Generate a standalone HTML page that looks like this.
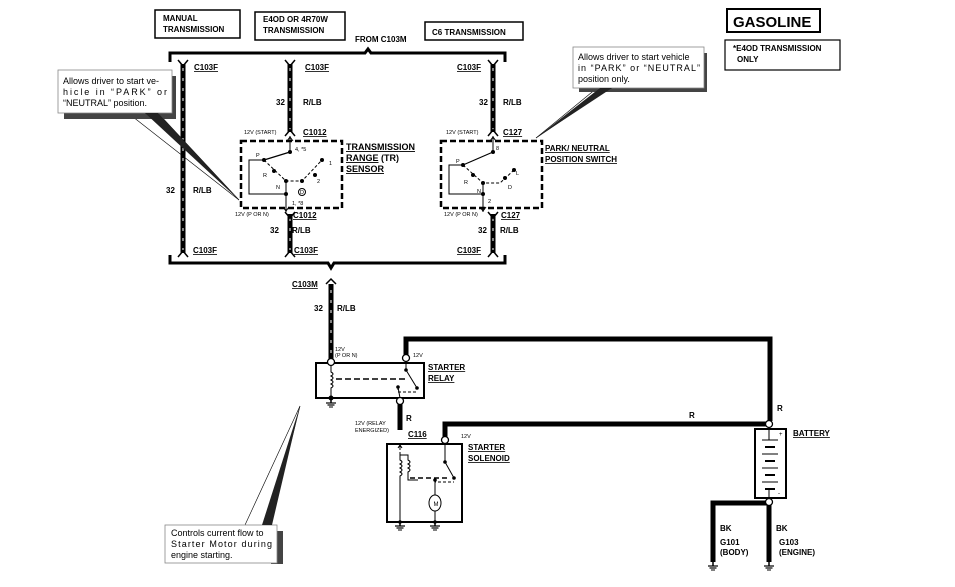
<!DOCTYPE html>
<html><head><meta charset="utf-8"><style>
html,body{margin:0;padding:0;background:#fff}
svg{display:block}
text{font-family:"Liberation Sans",Arial,sans-serif;fill:#000}
.b{font-weight:bold;font-size:8px}
.s{font-size:5.5px}
.u{text-decoration:underline}
</style></head><body>
<svg width="955" height="587" viewBox="0 0 955 587" xmlns="http://www.w3.org/2000/svg">
<defs>
<g id="gnd"><line x1="0" y1="0" x2="0" y2="4" stroke="#000" stroke-width="1.5"/><line x1="-5" y1="4" x2="5" y2="4" stroke="#000" stroke-width="1.2"/><line x1="-3.5" y1="6" x2="3.5" y2="6" stroke="#000" stroke-width="1.2"/><line x1="-2" y1="8" x2="2" y2="8" stroke="#000" stroke-width="1"/></g>
</defs>
<g fill="none" stroke="#000">
<!-- top boxes -->
<rect x="155" y="10" width="85" height="28" stroke-width="1.5"/>
<rect x="255" y="12" width="90" height="28" stroke-width="1.5"/>
<rect x="425" y="22" width="98" height="18" stroke-width="1.5"/>
<rect x="727" y="9" width="93" height="23" stroke-width="2"/>
<rect x="725" y="40" width="115" height="30" stroke-width="1.2"/>
<!-- brackets -->
<path d="M170,62 V53 H365 L368,49 L371,53 H505 V62" stroke-width="3"/>
<path d="M170,255 V263 H328 L331,268 L334,263 H505 V255" stroke-width="3"/>
</g>
<!-- wires R/LB striped -->
<g stroke-linecap="butt">
<g stroke="#000" stroke-width="5">
<line x1="183" y1="64" x2="183" y2="253"/>
<line x1="290" y1="64" x2="290" y2="132"/>
<line x1="290" y1="214" x2="290" y2="253"/>
<line x1="493" y1="64" x2="493" y2="132"/>
<line x1="493" y1="214" x2="493" y2="253"/>
<line x1="331" y1="284" x2="331" y2="361"/>
</g>
<g stroke="#fff" stroke-width="1" stroke-dasharray="3 7">
<line x1="183" y1="68" x2="183" y2="250"/>
<line x1="290" y1="68" x2="290" y2="130"/>
<line x1="290" y1="218" x2="290" y2="250"/>
<line x1="493" y1="68" x2="493" y2="130"/>
<line x1="493" y1="218" x2="493" y2="250"/>
<line x1="331" y1="290" x2="331" y2="358"/>
</g>
</g>
<!-- connector Y ends -->
<g fill="none" stroke="#000" stroke-width="1.5">
<path d="M178,60 L183,66 L188,60"/><path d="M178,257 L183,251 L188,257"/>
<path d="M285,60 L290,66 L295,60"/><path d="M285,136 L290,130 L295,136"/>
<path d="M285,212 L290,218 L295,212"/><path d="M285,257 L290,251 L295,257"/>
<path d="M488,60 L493,66 L498,60"/><path d="M488,136 L493,130 L498,136"/>
<path d="M488,212 L493,218 L498,212"/><path d="M488,257 L493,251 L498,257"/>
<path d="M326,284 L331,279 L336,284"/>
</g>
<!-- TR sensor -->
<g fill="none" stroke="#000">
<rect x="241" y="141" width="101" height="67" stroke-width="2.5" stroke-dasharray="6 3"/>
<rect x="441" y="141" width="101" height="67" stroke-width="2.5" stroke-dasharray="6 3"/>
<line x1="290" y1="136" x2="290" y2="152" stroke-width="1"/>
<path d="M287,141 L290,137 L293,141" stroke-width="1"/>
<line x1="290" y1="152" x2="264" y2="160" stroke-width="1.2"/>
<path d="M264,160 H249 V194 H286" stroke-width="1"/>
<line x1="286" y1="180" x2="286" y2="212" stroke-width="1"/>
<path d="M283,207 L286,211 L289,207" stroke-width="1"/>
<path d="M264,160 L286,181 L302,181 L322,160" stroke-width="1" stroke-dasharray="3 2"/>
<circle cx="302" cy="192" r="3.5" stroke-width="1"/>
<!-- P/N switch -->
<line x1="493" y1="136" x2="493" y2="152" stroke-width="1"/>
<path d="M490,141 L493,137 L496,141" stroke-width="1"/>
<line x1="493" y1="152" x2="463" y2="165" stroke-width="1.2"/>
<path d="M463,165 H449 V194 H483" stroke-width="1"/>
<line x1="483" y1="183" x2="483" y2="212" stroke-width="1"/>
<path d="M480,207 L483,211 L486,207" stroke-width="1"/>
<path d="M463,165 L483,183 L500,183 L514,170" stroke-width="1" stroke-dasharray="3 2"/>
</g>
<g fill="#000">
<circle cx="290" cy="152" r="2"/><circle cx="264" cy="160" r="2"/><circle cx="274" cy="171" r="2"/><circle cx="286" cy="181" r="2"/><circle cx="302" cy="181" r="2"/><circle cx="315" cy="175" r="2"/><circle cx="322" cy="160" r="2"/><circle cx="286" cy="194" r="2"/>
<circle cx="493" cy="152" r="2"/><circle cx="463" cy="165" r="2"/><circle cx="473" cy="175" r="2"/><circle cx="483" cy="183" r="2"/><circle cx="505" cy="178" r="2"/><circle cx="514" cy="170" r="2"/><circle cx="483" cy="194" r="2"/>
</g>
<g font-size="5.5" font-family="Liberation Sans">
<text x="295" y="151" class="s">4, *5</text><text x="256" y="157" class="s">P</text><text x="263" y="177" class="s">R</text><text x="276" y="189" class="s">N</text><text x="300" y="194" class="s" font-size="4">D</text><text x="317" y="183" class="s">2</text><text x="329" y="165" class="s">1</text><text x="292" y="205" class="s">1, *8</text>
<text x="496" y="150" class="s">8</text><text x="456" y="163" class="s">P</text><text x="464" y="184" class="s">R</text><text x="477" y="193" class="s">N</text><text x="508" y="189" class="s">D</text><text x="516" y="175" class="s">L</text><text x="488" y="203" class="s">2</text>
<text x="244" y="134" class="s">12V (START)</text><text x="235" y="216" class="s">12V (P OR N)</text>
<text x="446" y="134" class="s">12V (START)</text><text x="444" y="216" class="s">12V (P OR N)</text>
<text x="335" y="351" class="s">12V</text><text x="335" y="357" class="s">(P OR N)</text>
<text x="413" y="357" class="s">12V</text>
<text x="355" y="425" class="s">12V (RELAY</text><text x="355" y="432" class="s">ENERGIZED)</text>
<text x="461" y="438" class="s">12V</text>
</g>
<!-- labels -->
<g class="b" font-size="8">
<text x="163" y="21" class="b">MANUAL</text><text x="163" y="32" class="b">TRANSMISSION</text>
<text x="263" y="22" class="b">E4OD OR 4R70W</text><text x="263" y="33" class="b">TRANSMISSION</text>
<text x="355" y="42" class="b">FROM C103M</text>
<text x="432" y="35" class="b">C6 TRANSMISSION</text>
<text x="733" y="27" font-size="15" font-weight="bold">GASOLINE</text>
<text x="733" y="51" class="b">*E4OD TRANSMISSION</text><text x="737" y="62" class="b">ONLY</text>
<text x="194" y="70" class="b u">C103F</text><text x="305" y="70" class="b u">C103F</text><text x="457" y="70" class="b u">C103F</text>
<text x="276" y="105" class="b">32</text><text x="303" y="105" class="b">R/LB</text>
<text x="479" y="105" class="b">32</text><text x="503" y="105" class="b">R/LB</text>
<text x="303" y="135" class="b u">C1012</text><text x="503" y="135" class="b u">C127</text>
<text x="346" y="150" font-size="9" font-weight="bold" class="u">TRANSMISSION</text>
<text x="346" y="161" font-size="9" font-weight="bold"><tspan class="u">RANGE</tspan> (TR)</text>
<text x="346" y="172" font-size="9" font-weight="bold" class="u">SENSOR</text>
<text x="545" y="151" class="b u">PARK/ NEUTRAL</text><text x="545" y="162" class="b u">POSITION SWITCH</text>
<text x="166" y="193" class="b">32</text><text x="193" y="193" class="b">R/LB</text>
<text x="293" y="218" class="b u">C1012</text><text x="501" y="218" class="b u">C127</text>
<text x="270" y="233" class="b">32</text><text x="292" y="233" class="b">R/LB</text>
<text x="478" y="233" class="b">32</text><text x="500" y="233" class="b">R/LB</text>
<text x="193" y="253" class="b u">C103F</text><text x="294" y="253" class="b u">C103F</text><text x="457" y="253" class="b u">C103F</text>
<text x="292" y="287" class="b u">C103M</text>
<text x="314" y="311" class="b">32</text><text x="337" y="311" class="b">R/LB</text>
<text x="428" y="370" class="b u">STARTER</text><text x="428" y="381" class="b u">RELAY</text>
<text x="406" y="421" class="b">R</text>
<text x="408" y="437" class="b u">C116</text>
<text x="468" y="450" class="b u">STARTER</text><text x="468" y="461" class="b u">SOLENOID</text>
<text x="689" y="418" class="b">R</text><text x="777" y="411" class="b">R</text>
<text x="793" y="436" class="b u">BATTERY</text>
<text x="720" y="531" class="b">BK</text><text x="776" y="531" class="b">BK</text>
<text x="720" y="545" class="b">G101</text><text x="720" y="555" class="b">(BODY)</text>
<text x="779" y="545" class="b">G103</text><text x="779" y="555" class="b">(ENGINE)</text>
</g>
<!-- callouts -->
<g fill="none" stroke="#000" stroke-width="0.6">
<line x1="128" y1="113" x2="239" y2="200"/><line x1="158" y1="113" x2="239" y2="200"/>
<line x1="597" y1="88" x2="536" y2="138"/><line x1="610" y1="88" x2="536" y2="138"/>
<line x1="245" y1="525" x2="300" y2="406"/><line x1="270" y1="525" x2="300" y2="406"/>
</g>
<rect x="64" y="76" width="112" height="43" fill="#444"/>
<rect x="58" y="70" width="114" height="43" fill="#fff" stroke="#888" stroke-width="0.8"/>
<polygon points="145,113 158,113 239,200" fill="#222"/>
<rect x="579" y="53" width="128" height="39" fill="#444"/>
<rect x="573" y="47" width="131" height="41" fill="#fff" stroke="#888" stroke-width="0.8"/>
<polygon points="600,88 612,88 536,138" fill="#222"/>
<rect x="271" y="531" width="12" height="33" fill="#444"/>
<rect x="165" y="525" width="112" height="38" fill="#fff" stroke="#888" stroke-width="0.8"/>
<polygon points="262,525 272,525 300,406" fill="#222"/>
<g font-size="9">
<text x="63" y="84">Allows driver to start ve-</text>
<text x="63" y="95" textLength="104">hicle in “PARK” or</text>
<text x="63" y="106">“NEUTRAL” position.</text>
<text x="578" y="60">Allows driver to start vehicle</text>
<text x="578" y="71" textLength="122">in “PARK” or “NEUTRAL”</text>
<text x="578" y="82">position only.</text>
<text x="171" y="536">Controls current flow to</text>
<text x="171" y="547" textLength="101">Starter Motor during</text>
<text x="171" y="558">engine starting.</text>
</g>
<!-- power wires -->
<g fill="none" stroke="#000" stroke-width="5">
<path d="M406,356 V339 H770 V421"/>
<path d="M445,437 V424 H767"/>
<line x1="400" y1="402" x2="400" y2="430"/>
<path d="M769,505 V562"/>
<path d="M769,503 H713 V562"/>
</g>
<g fill="none" stroke="#000" stroke-width="2">
<rect x="316" y="363" width="108" height="35"/>
<rect x="387" y="444" width="75" height="78"/>
<rect x="755" y="429" width="31" height="69"/>
</g>
<g fill="#fff" stroke="#000" stroke-width="1.3">
<circle cx="331" cy="362" r="3.5"/><circle cx="406" cy="358" r="3.5"/><circle cx="400" cy="401" r="3.5"/>
<circle cx="445" cy="440" r="3.5"/><circle cx="769" cy="424" r="3.5"/><circle cx="769" cy="502" r="3.5"/>
</g>
<!-- relay internals -->
<g fill="none" stroke="#000" stroke-width="1">
<path d="M331,366 V372 q4,2 0,4 q4,2 0,4 q4,2 0,4 q4,2 0,4 V398"/>
<line x1="336" y1="379" x2="407" y2="379" stroke-width="1.5" stroke-dasharray="6 3"/>
<path d="M406,362 V370 L417,388"/>
<path d="M398,387 V392 H418" stroke-dasharray="3 2"/>
<line x1="398" y1="387" x2="400" y2="398"/>
<!-- solenoid -->
<path d="M400,444 V450 M398,448 L400,445 L402,448"/>
<path d="M400,452 V460 q4,2 0,4 q4,2 0,4 q4,2 0,4 q4,2 0,4 V522"/>
<path d="M400,455 H408 V460 q4,2 0,4 q4,2 0,4 q4,2 0,4 V477 V480 H418"/>
<line x1="410" y1="478" x2="448" y2="478" stroke-width="1.5" stroke-dasharray="5 3"/>
<path d="M445,444 V462 L454,478"/>
<path d="M435,480 V482 H454" stroke-dasharray="3 2"/>
<line x1="435" y1="480" x2="435" y2="497"/>
<ellipse cx="435" cy="503" rx="6" ry="8" fill="#fff"/>
<line x1="435" y1="511" x2="435" y2="522"/>
<!-- battery -->
<line x1="762" y1="440" x2="778" y2="440"/><line x1="765" y1="447" x2="775" y2="447" stroke-width="2"/>
<line x1="762" y1="454" x2="778" y2="454"/><line x1="765" y1="461" x2="775" y2="461" stroke-width="2"/>
<line x1="762" y1="468" x2="778" y2="468"/><line x1="765" y1="475" x2="775" y2="475" stroke-width="2"/>
<line x1="762" y1="482" x2="778" y2="482"/><line x1="765" y1="489" x2="775" y2="489" stroke-width="2"/>
<line x1="769" y1="428" x2="769" y2="440"/><line x1="769" y1="489" x2="769" y2="498"/>
</g>
<text x="436" y="506" font-size="6" text-anchor="middle">M</text>
<text x="779" y="436" font-size="6">+</text><text x="778" y="495" font-size="6">-</text>
<g fill="#000"><circle cx="406" cy="370" r="1.8"/><circle cx="417" cy="388" r="1.8"/><circle cx="398" cy="387" r="1.8"/>
<circle cx="445" cy="462" r="1.8"/><circle cx="454" cy="478" r="1.8"/><circle cx="435" cy="480" r="1.8"/><circle cx="400" cy="522" r="1.8"/><circle cx="435" cy="522" r="1.8"/><circle cx="331" cy="398" r="2.5"/></g>
<use href="#gnd" x="331" y="399"/>
<use href="#gnd" x="400" y="522"/>
<use href="#gnd" x="435" y="522"/>
<use href="#gnd" x="713" y="562"/>
<use href="#gnd" x="769" y="562"/>
</svg>
</body></html>
